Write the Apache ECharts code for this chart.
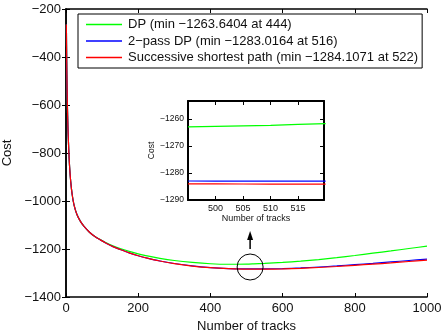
<!DOCTYPE html>
<html>
<head>
<meta charset="utf-8">
<script src="https://cdn.jsdelivr.net/npm/echarts@6/dist/echarts.min.js"></script>
<style>
  html, body { margin: 0; padding: 0; background: #fff; }
  #chart { width: 441px; height: 335px; }
</style>
</head>
<body>
<div id="chart"></div>
<script>
// number of tracks (shared x values for the main plot)
const tracks = [1, 2, 3, 4, 5, 6, 8, 10, 13, 17, 22, 30, 40, 50, 65, 80, 95, 110, 130, 150,
  175, 200, 225, 260, 300, 350, 400, 450, 500, 520, 550, 600, 650, 700, 750, 800, 850, 900, 950, 1000];

const costDP = [-265, -420, -530, -610, -672, -722, -800, -858, -918, -972, -1015, -1055, -1085,
  -1106, -1130, -1148, -1161, -1173, -1187, -1198, -1210, -1220, -1229, -1239, -1248, -1256,
  -1261.5, -1263.6, -1262.8, -1261.8, -1260, -1256, -1250.5, -1244, -1236, -1227, -1217.5,
  -1208, -1198, -1188];

const costTwoPass = [-265, -420, -530, -610, -672, -722, -800, -858, -918, -972, -1015, -1055, -1085,
  -1106, -1130, -1148, -1162, -1175, -1190, -1202, -1216, -1228, -1238, -1250, -1260.5, -1270.5,
  -1277.5, -1281.5, -1282.9, -1283.0, -1282.7, -1281.5, -1279, -1275, -1270.5, -1265, -1260,
  -1254, -1248, -1242];

const costSSP = [-265, -420, -530, -610, -672, -722, -800, -858, -918, -972, -1015, -1055, -1085,
  -1106, -1130, -1148, -1162, -1175, -1190, -1202, -1216, -1228, -1238, -1250, -1261, -1271,
  -1278, -1282, -1283.8, -1284.1, -1284.0, -1283, -1280.5, -1277, -1273, -1268, -1263,
  -1258, -1252, -1246];

// zoomed inset around the minimum
const insetTracks = [495, 500, 505, 510, 515, 520];
const insetDP = [-1262.9, -1262.7, -1262.5, -1262.3, -1262.0, -1261.7];
const insetTwoPass = [-1282.95, -1282.98, -1283.0, -1283.01, -1283.016, -1283.01];
const insetSSP = [-1284.0, -1284.03, -1284.06, -1284.08, -1284.1, -1284.107];

const seriesNames = [
  "DP (min \u22121263.6404 at 444)",
  "2\u2212pass DP (min \u22121283.0164 at 516)",
  "Successive shortest path (min \u22121284.1071 at 522)",
];
const seriesColors = ["#00ff00", "#0000ff", "#ff0000"];

const FONT = "Liberation Sans, Arial, Helvetica, sans-serif";
const pairs = (xs, ys) => xs.map((x, i) => [x, ys[i]]);
const minus = (v) => String(v).replace("-", "\u2212");

const chart = echarts.init(document.getElementById("chart"));

const tickStyle = { inside: true, length: 4, lineStyle: { color: "#000", width: 1 } };
const lineStyleAxis = { lineStyle: { color: "#000", width: 1.5 } };
const insetLine = { lineStyle: { color: "#000", width: 2 } };

function mainSeries(name, data, color) {
  return {
    name, type: "line", xAxisIndex: 0, yAxisIndex: 0, data,
    symbol: "none", smooth: 0.3,
    lineStyle: { color, width: 1.2 }, itemStyle: { color },
    silent: true, animation: false,
  };
}
function insetSeries(name, data, color) {
  return {
    name: name + "_inset", type: "line", xAxisIndex: 2, yAxisIndex: 2, data,
    symbol: "none", lineStyle: { color, width: 1.2 }, itemStyle: { color },
    silent: true, animation: false, z: 6,
  };
}

const option = {
  animation: false,
  textStyle: { fontFamily: FONT },
  grid: [
    { left: 66, top: 9, right: 14, bottom: 38, outerBoundsMode: "none" },
    { left: 188, top: 101, right: 117, bottom: 135, outerBoundsMode: "none" },
  ],
  legend: {
    left: 78, top: 14,
    orient: "vertical",
    data: seriesNames,
    icon: "rect",
    itemWidth: 36, itemHeight: 1.3, itemGap: 3.5,
    padding: [4, 4, 4, 8],
    borderColor: "#000", borderWidth: 1, backgroundColor: "#fff",
    textStyle: { fontSize: 13, color: "#111", fontFamily: FONT, padding: [0, 0, 0, 1] },
    selectedMode: false,
    z: 10,
  },
  xAxis: [
    { type: "value", gridIndex: 0, min: 0, max: 1000, interval: 200,
      name: "Number of tracks", nameLocation: "middle", nameGap: 19,
      nameTextStyle: { fontSize: 13, color: "#111" },
      axisLine: lineStyleAxis, axisTick: tickStyle, splitLine: { show: false },
      axisLabel: { fontSize: 13, color: "#111", margin: 5, formatter: (v) => String(v) } },
    { type: "value", gridIndex: 0, min: 0, max: 1000, interval: 200, position: "top",
      axisLine: lineStyleAxis, axisTick: tickStyle, splitLine: { show: false },
      axisLabel: { show: false } },
    { type: "value", gridIndex: 1, min: 495, max: 519.7, interval: 5,
      name: "Number of tracks", nameLocation: "middle", nameGap: 14,
      nameTextStyle: { fontSize: 9, color: "#111" },
      axisLine: insetLine, axisTick: tickStyle, splitLine: { show: false },
      axisLabel: { fontSize: 9, color: "#111", margin: 4, showMinLabel: false, showMaxLabel: false } },
    { type: "value", gridIndex: 1, min: 495, max: 519.7, interval: 5, position: "top",
      axisLine: insetLine, axisTick: tickStyle, splitLine: { show: false },
      axisLabel: { show: false } },
  ],
  yAxis: [
    { type: "value", gridIndex: 0, min: -1400, max: -200, interval: 200,
      name: "Cost", nameLocation: "middle", nameGap: 49,
      nameTextStyle: { fontSize: 13, color: "#111" },
      axisLine: lineStyleAxis, axisTick: tickStyle, splitLine: { show: false },
      axisLabel: { fontSize: 13, color: "#111", margin: 5, formatter: minus } },
    { type: "value", gridIndex: 0, min: -1400, max: -200, interval: 200, position: "right",
      axisLine: lineStyleAxis, axisTick: tickStyle, splitLine: { show: false },
      axisLabel: { show: false } },
    { type: "value", gridIndex: 1, min: -1290, max: -1253.3, interval: 10,
      name: "Cost", nameLocation: "middle", nameGap: 32,
      nameTextStyle: { fontSize: 8.5, color: "#111" },
      axisLine: insetLine, axisTick: tickStyle, splitLine: { show: false },
      axisLabel: { fontSize: 8.5, color: "#111", margin: 4, showMaxLabel: false, formatter: minus } },
    { type: "value", gridIndex: 1, min: -1290, max: -1253.3, interval: 10, position: "right",
      axisLine: insetLine, axisTick: tickStyle, splitLine: { show: false },
      axisLabel: { show: false } },
  ],
  series: [
    mainSeries(seriesNames[0], pairs(tracks, costDP), seriesColors[0]),
    mainSeries(seriesNames[1], pairs(tracks, costTwoPass), seriesColors[1]),
    mainSeries(seriesNames[2], pairs(tracks, costSSP), seriesColors[2]),
    insetSeries(seriesNames[0], pairs(insetTracks, insetDP), seriesColors[0]),
    insetSeries(seriesNames[1], pairs(insetTracks, insetTwoPass), seriesColors[1]),
    insetSeries(seriesNames[2], pairs(insetTracks, insetSSP), seriesColors[2]),
  ],
};

chart.setOption(option);

// circle + arrow annotation pointing from the minimum region to the inset
const circleAt = [510, -1275];
const arrowFrom = [510, -1200];
const arrowTo = [510, -1125];
const c = chart.convertToPixel({ gridIndex: 0 }, circleAt);
const a0 = chart.convertToPixel({ gridIndex: 0 }, arrowFrom);
const a1 = chart.convertToPixel({ gridIndex: 0 }, arrowTo);

chart.setOption({
  graphic: [
    { type: "circle", shape: { cx: c[0], cy: c[1], r: 13 },
      style: { fill: "none", stroke: "#000", lineWidth: 1 }, z: 20 },
    { type: "line", shape: { x1: a0[0], y1: a0[1], x2: a1[0], y2: a1[1] + 6 },
      style: { stroke: "#000", lineWidth: 1.5 }, z: 20 },
    { type: "polygon",
      shape: { points: [[a1[0], a1[1]], [a1[0] - 3, a1[1] + 9], [a1[0] + 3, a1[1] + 9]] },
      style: { fill: "#000" }, z: 20 },
  ],
});
</script>
</body>
</html>
